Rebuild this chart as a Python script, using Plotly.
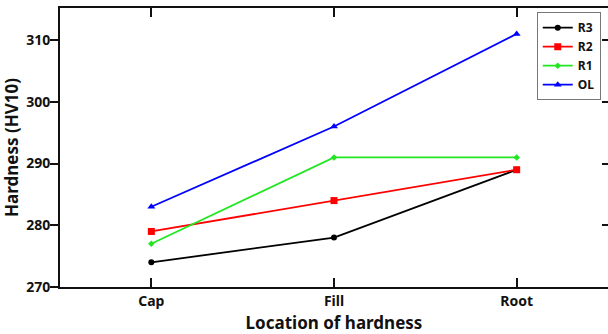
import plotly.graph_objects as go

categories = ["Cap", "Fill", "Root"]
r3 = [274, 278, 289]
r2 = [279, 284, 289]
r1 = [277, 291, 291]
ol = [283, 296, 311]
y_ticks = [270, 280, 290, 300, 310]

series = [
    ("R3", r3, "#000000", "circle", 6),
    ("R2", r2, "#ff0000", "square", 7),
    ("R1", r1, "#22e622", "diamond", 5),
    ("OL", ol, "#0000ff", "triangle-up", 7),
]

FONT = "Noto Sans"
fig = go.Figure()
for name, vals, color, sym, sz in series:
    fig.add_trace(go.Scatter(
        x=[0, 1, 2], y=vals, name=name, mode="lines+markers",
        line=dict(color=color, width=1.8),
        marker=dict(symbol=sym, size=sz, color=color),
    ))

# invisible trace on secondary axis to show right-side ticks
fig.add_trace(go.Scatter(x=[0], y=[270], yaxis="y2", showlegend=False,
                         mode="markers", marker=dict(opacity=0), hoverinfo="skip"))

fig.update_layout(
    width=608, height=334,
    margin=dict(l=60, r=0, t=8, b=47, autoexpand=False),
    paper_bgcolor="white", plot_bgcolor="white",
    font=dict(family=FONT, color="#111111"),
    showlegend=True,
    xaxis=dict(
        range=[-0.5, 2.5], tickvals=[0, 1, 2], ticktext=categories,
        showline=True, linecolor="#111111", linewidth=2, mirror="ticks",
        ticks="inside", ticklen=9, tickwidth=1.5, tickcolor="#111111",
        showgrid=False, zeroline=False, automargin=False,
        tickfont=dict(size=14, family=FONT, weight="bold"),
        title=dict(text="Location of hardness",
                   font=dict(size=17, family=FONT, weight="bold")),
    ),
    yaxis=dict(
        range=[270, 315.2], tickvals=y_ticks,
        showline=True, linecolor="#111111", linewidth=2,
        ticks="outside", ticklen=8, tickwidth=1.5, tickcolor="#111111",
        ticklabelstandoff=-3,
        showgrid=False, zeroline=False, automargin=False,
        tickfont=dict(size=14, family=FONT, weight="bold"),
        title=dict(text="Hardness (HV10)",
                   font=dict(size=17, family=FONT, weight="bold")),
    ),
    yaxis2=dict(
        range=[270, 315.2], tickvals=y_ticks, overlaying="y", side="right",
        showline=False, ticks="inside", ticklen=6, tickwidth=1.5, tickcolor="#111111",
        showticklabels=False, showgrid=False, zeroline=False, automargin=False,
    ),
    legend=dict(
        x=0.870, y=0.985, xanchor="left", yanchor="top",
        bordercolor="#777777", borderwidth=1, bgcolor="white",
        font=dict(size=12, family=FONT, weight="bold"),
        tracegroupgap=0, itemwidth=30,
    ),
)

fig.write_html("out.html", config={"displayModeBar": False},
               post_script="document.body.style.margin='0';")
